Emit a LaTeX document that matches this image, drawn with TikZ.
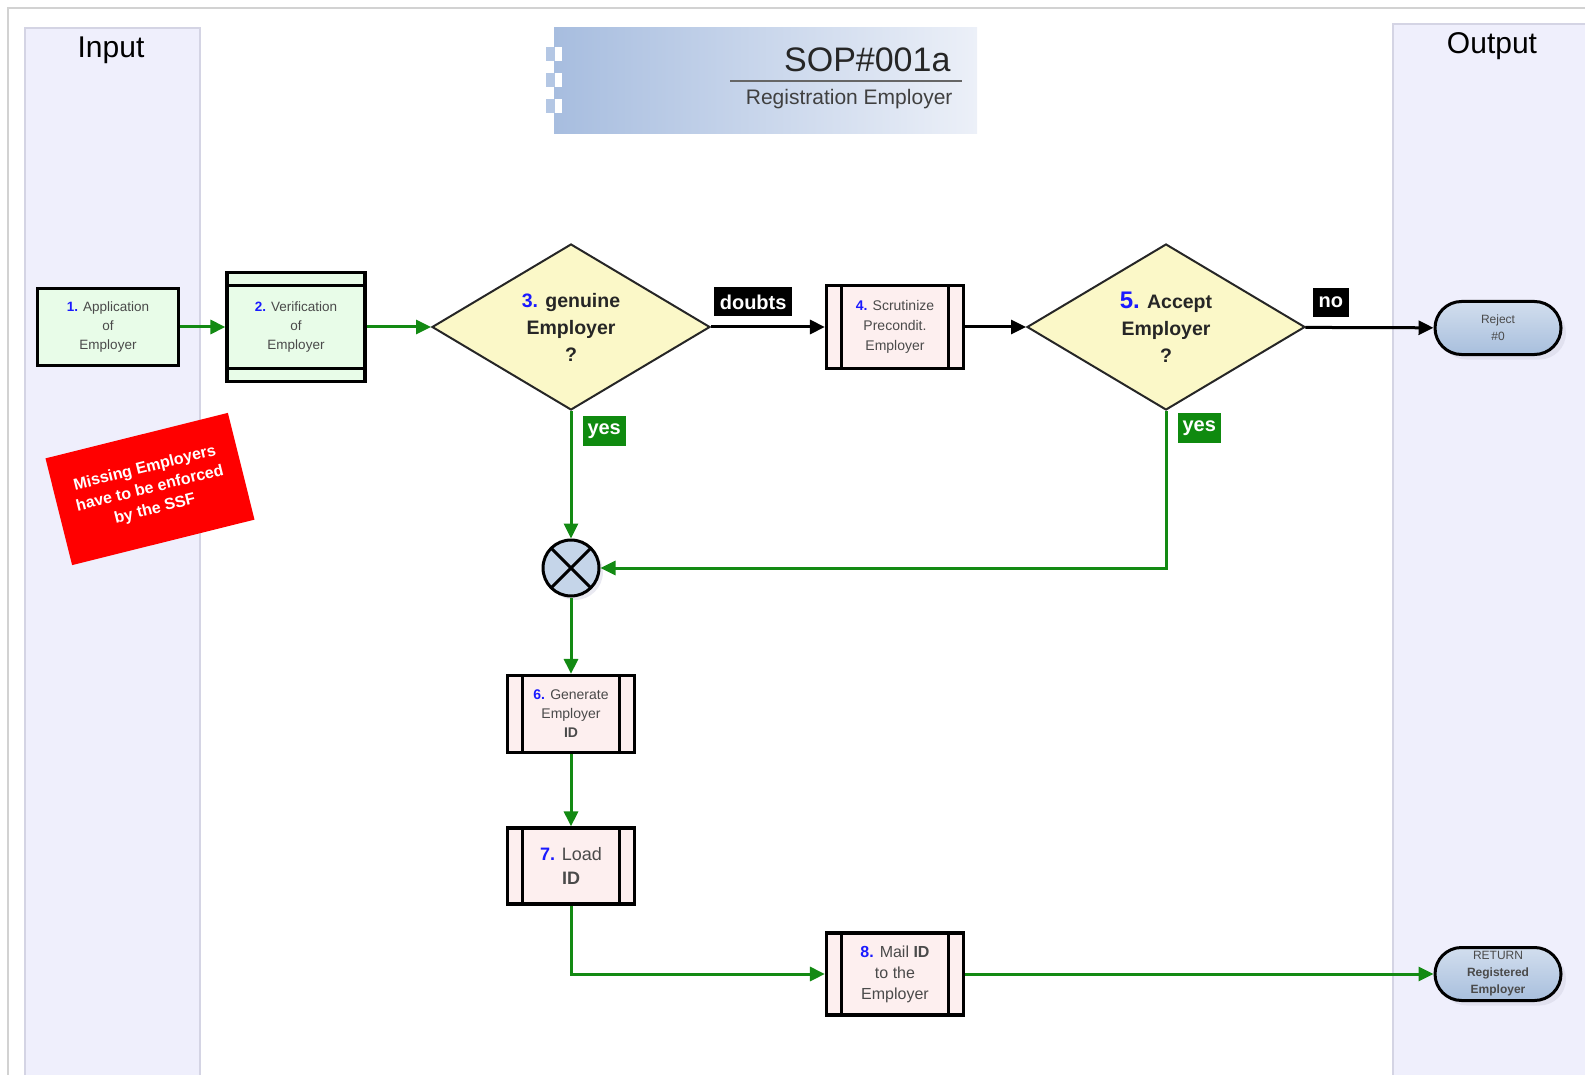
\documentclass[tikz,border=0pt]{standalone}
\usepackage{fontspec}
\setmainfont{Liberation Sans}
\usetikzlibrary{shapes.geometric,shapes.misc,arrows.meta,shadows}

\definecolor{lanefill}{HTML}{EFEFFC}
\definecolor{laneline}{HTML}{D4D4E4}
\definecolor{flowgreen}{HTML}{138A13}
\definecolor{numblue}{HTML}{1A1AFF}
\definecolor{txtgray}{HTML}{4A4A4A}
\definecolor{greenfill}{HTML}{E8FCE8}
\definecolor{pinkfill}{HTML}{FDEFEF}
\definecolor{decfill}{HTML}{FBF8C8}
\definecolor{termtop}{HTML}{D2DEEE}
\definecolor{termbot}{HTML}{A8BFDD}
\definecolor{titleleft}{HTML}{A7BDDF}
\definecolor{titleright}{HTML}{ECF0F8}
\definecolor{tagyes}{HTML}{0F8A0F}

\newcommand{\stepno}[1]{\textcolor{numblue}{\textbf{#1}}}

\tikzset{
  startbox/.style={draw, line width=3.2pt, fill=greenfill, minimum width=141pt,
    minimum height=77pt, align=center, text=txtgray, font=\fontsize{13.5}{19}\selectfont},
  checkbox/.style={startbox, minimum width=138pt, minimum height=109pt,
    path picture={\draw[line width=3pt]
      ([yshift=-13pt]path picture bounding box.north west) -- ([yshift=-13pt]path picture bounding box.north east)
      ([yshift=13pt]path picture bounding box.south west) -- ([yshift=13pt]path picture bounding box.south east);}},
  subproc/.style={draw, line width=3.2pt, fill=pinkfill, minimum width=127pt,
    minimum height=77pt, align=center, text=txtgray, inner sep=1pt,
    path picture={\draw[line width=3pt]
      ([xshift=15pt]path picture bounding box.north west) -- ([xshift=15pt]path picture bounding box.south west)
      ([xshift=-15pt]path picture bounding box.north east) -- ([xshift=-15pt]path picture bounding box.south east);}},
  decision/.style={diamond, draw=black!85, line width=2pt, fill=decfill, aspect=1.67,
    minimum width=278pt, minimum height=166pt, inner sep=0pt, align=center,
    text=black!85, font=\bfseries\fontsize{19.5}{27}\selectfont},
  terminal/.style={rounded rectangle, draw, line width=3pt, top color=termtop,
    bottom color=termbot, minimum width=128pt, minimum height=53pt, align=center,
    text=txtgray, inner sep=1pt, font=\fontsize{12}{17}\selectfont,
    drop shadow={fill=laneline, shadow xshift=5pt, shadow yshift=-5pt}},
  junction/.style={circle, draw, line width=3pt, fill=termtop!70!termbot, minimum size=56pt,
    drop shadow={fill=laneline, shadow xshift=4pt, shadow yshift=-4pt},
    path picture={\draw[line width=3pt]
      (path picture bounding box.north west) -- (path picture bounding box.south east)
      (path picture bounding box.north east) -- (path picture bounding box.south west);}},
  tagk/.style={fill=black, text=white, inner xsep=6pt, inner ysep=4pt, minimum height=29pt,
    font=\bfseries\fontsize{20}{22}\selectfont},
  tagg/.style={fill=tagyes, text=white, inner xsep=5pt, inner ysep=4pt, minimum height=30pt,
    font=\bfseries\fontsize{20}{22}\selectfont},
  flowg/.style={draw=flowgreen, line width=3pt, -{Triangle[length=15pt,width=14pt]}},
  flowk/.style={draw=black, line width=3pt, -{Triangle[length=15pt,width=14pt]}},
  lanetitle/.style={font=\fontsize{30}{32}\selectfont, text=black}
}

\begin{document}
\begin{tikzpicture}[x=1pt,y=-1pt]
\useasboundingbox (0,0) rectangle (1585,1075);
%% frame and lanes
\draw[gray!35, line width=1.5pt] (8,1075) -- (8,8) -- (1585,8);
\fill[lanefill] (25,28) rectangle (200,1075);
\draw[laneline, line width=1.2pt] (25,1075) -- (25,28) -- (200,28) -- (200,1075);
\fill[lanefill] (1393,24) rectangle (1585,1075);
\draw[laneline, line width=1.2pt] (1393,1075) -- (1393,24) -- (1585,24);
\node[lanetitle] (tin) at (111,50) {Input};
\node[lanetitle] (tout) at (1492,46) {Output};

%% title block
\shade[left color=titleleft, right color=titleright] (554,28) rectangle (977,134);
\foreach \yy in {47,73,99} {
  \fill[titleleft!85] (546,\yy) rectangle (555,\yy+14);
  \fill[white] (555,\yy) rectangle (562,\yy+14);
}
\node[anchor=east, font=\fontsize{34}{36}\selectfont, text=black!85] (sop) at (954,60) {SOP\#001a};
\draw[black!60, line width=1.2pt] (730,81) -- (962,81);
\node[anchor=east, font=\fontsize{21}{23}\selectfont, text=black!75] (sopsub) at (956,99) {Registration Employer};

%% note
\node[fill=red, text=white, rotate=14, minimum width=188pt, minimum height=110pt, align=center,
  font=\bfseries\fontsize{16}{21}\selectfont] (note) at (150,489)
  {Missing Employers\\have to be enforced\\by the SSF};

%% steps
\node[startbox] (n1) at (108,327) {\stepno{1.} Application\\of\\Employer};
\node[checkbox] (n2) at (296,327) {\stepno{2.} Verification\\of\\Employer};
\node[decision] (d3) at (571,327) {\textcolor{numblue}{3.} genuine\\Employer\\?};
\node[subproc, minimum width=137pt, minimum height=83pt, font=\fontsize{14}{20}\selectfont] (p4) at (895,327)
  {\stepno{4.} Scrutinize\\Precondit.\\Employer};
\node[decision] (d5) at (1166,327) {\textcolor{numblue}{\fontsize{24}{27}\selectfont 5.} Accept\\Employer\\?};
\node[terminal] (rej) at (1498,328) {Reject\\\#0};
\node[junction] (jn) at (571,568) {};
\node[subproc, font=\fontsize{14}{19}\selectfont] (p6) at (571,714) {\stepno{6.} Generate\\Employer\\\textbf{ID}};
\node[subproc, minimum height=76pt, font=\fontsize{18}{24}\selectfont] (p7) at (571,866) {\stepno{7.} Load\\\textbf{ID}};
\node[subproc, minimum width=137pt, minimum height=82pt, font=\fontsize{16}{21}\selectfont] (p8) at (895,974)
  {\stepno{8.} Mail \textbf{ID}\\to the\\Employer};
\node[terminal] (ret) at (1498,974) {RETURN\\\textbf{Registered}\\\textbf{Employer}};

%% connectors
\draw[flowg] (n1) -- (n2);
\draw[flowg] (n2) -- (d3);
\draw[flowk] (d3) -- node[tagk, pos=0.37, above=9pt] (ldoubts) {doubts} (p4);
\draw[flowk] (p4) -- (d5);
\draw[flowk] (d5) -- node[tagk, pos=0.2, above=9pt] (lno) {no} (rej);
\draw[flowg] (d3.south) -- node[tagg, pos=0.16, right=10pt] (lyes1) {yes} (jn.north);
\draw[flowg] (d5.south) |- node[tagg, pos=0.055, right=10pt] (lyes2) {yes} (jn.east);
\draw[flowg] (jn) -- (p6);
\draw[flowg] (p6) -- (p7);
\draw[flowg] (p7.south) |- (p8.west);
\draw[flowg] (p8) -- (ret);

\end{tikzpicture}
\end{document}
